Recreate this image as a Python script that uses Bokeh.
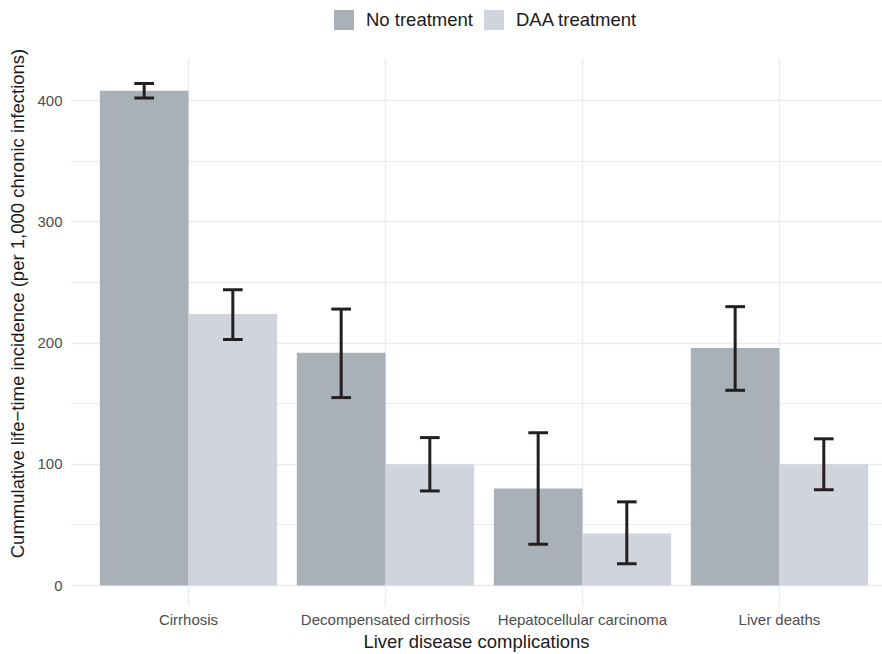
from bokeh.plotting import figure
from bokeh.models import ColumnDataSource, FixedTicker, Legend, LegendItem, Range1d
from bokeh.embed import file_html
from bokeh.resources import INLINE

categories = ["Cirrhosis", "Decompensated cirrhosis", "Hepatocellular carcinoma", "Liver deaths"]
series = ["No treatment", "DAA treatment"]
no_treat = [408, 192, 80, 196]
no_treat_lo = [402, 155, 34, 161]
no_treat_hi = [414, 228, 126, 230]
daa = [224, 100, 43, 100]
daa_lo = [203, 78, 18, 79]
daa_hi = [244, 122, 69, 121]
y_ticks = [0, 100, 200, 300, 400]
y_minor = [50, 150, 250, 350]

colors = ["#AAB0B8", "#D1D4DC"]
FONT = "Liberation Sans"
GRID = "#EBEBEE"
Y_LO, Y_PANEL_TOP = -17.3, 434.6

p = figure(width=882, height=654, output_backend="svg", toolbar_location=None,
           x_range=Range1d(0.401, 4.523), y_range=Range1d(Y_LO, 482.5),
           min_border_left=70, min_border_right=0, min_border_top=0, min_border_bottom=40)
p.outline_line_color = None
p.background_fill_color = "white"

# vertical grid lines limited to the panel area
xt = list(range(1, len(categories) + 1))
p.segment(x0=xt, x1=xt, y0=[Y_LO] * len(xt), y1=[Y_PANEL_TOP] * len(xt),
          line_color=GRID, line_width=1.4)

dodge = 0.225
bw = 0.45
cap = 0.05
renderers = []
for k, (vals, lo, hi) in enumerate([(no_treat, no_treat_lo, no_treat_hi), (daa, daa_lo, daa_hi)]):
    xs = [i + 1 + (dodge if k else -dodge) for i in range(len(categories))]
    src = ColumnDataSource(dict(x=xs, top=vals, lo=lo, hi=hi,
                                x0=[x - cap for x in xs], x1=[x + cap for x in xs]))
    r = p.vbar(x="x", top="top", bottom=0, width=bw, source=src, fill_color=colors[k], line_color=None)
    renderers.append(r)
    p.segment(x0="x", x1="x", y0="lo", y1="hi", source=src, line_color="#231F20", line_width=3)
    p.segment(x0="x0", x1="x1", y0="lo", y1="lo", source=src, line_color="#231F20", line_width=3)
    p.segment(x0="x0", x1="x1", y0="hi", y1="hi", source=src, line_color="#231F20", line_width=3)

# axes
p.xaxis.ticker = FixedTicker(ticks=xt)
p.xaxis.major_label_overrides = {i + 1: c for i, c in enumerate(categories)}
p.yaxis.ticker = FixedTicker(ticks=y_ticks, minor_ticks=y_minor)
for ax in (p.xaxis[0], p.yaxis[0]):
    ax.axis_line_color = None
    ax.major_tick_line_color = None
    ax.minor_tick_line_color = None
    ax.major_tick_out = 0
    ax.major_tick_in = 0
    ax.minor_tick_out = 0
    ax.minor_tick_in = 0
    ax.major_label_text_font = FONT
    ax.major_label_text_font_size = "15px"
    ax.major_label_text_color = "#4D4D4D"
    ax.axis_label_text_font = FONT
    ax.axis_label_text_font_size = "18.5px"
    ax.axis_label_text_font_style = "normal"
    ax.axis_label_text_color = "#1A1A1A"
p.xaxis.axis_label = "Liver disease complications"
p.yaxis.axis_label = "Cummulative life\u2212time incidence (per 1,000 chronic infections)"
p.xaxis.major_label_standoff = 4
p.xaxis.axis_label_standoff = 0
p.yaxis.major_label_standoff = 8
p.yaxis.axis_label_standoff = 6

p.xgrid.grid_line_color = None
p.ygrid.grid_line_color = GRID
p.ygrid.grid_line_width = 1.4
p.ygrid.minor_grid_line_color = GRID
p.ygrid.minor_grid_line_width = 1.2

legend = Legend(items=[LegendItem(label=series[i], renderers=[renderers[i]]) for i in range(2)],
                orientation="horizontal", location=(264 - 3, 574))
legend.label_text_font = FONT
legend.label_text_font_size = "18.5px"
legend.label_text_color = "#1A1A1A"
legend.glyph_width = 25
legend.glyph_height = 25
legend.label_standoff = 10
legend.spacing = 8
legend.label_height = 25
legend.border_line_color = None
legend.background_fill_alpha = 0
legend.padding = 0
legend.margin = 0
p.add_layout(legend)

open("out.html", "w").write(file_html(p, INLINE))
